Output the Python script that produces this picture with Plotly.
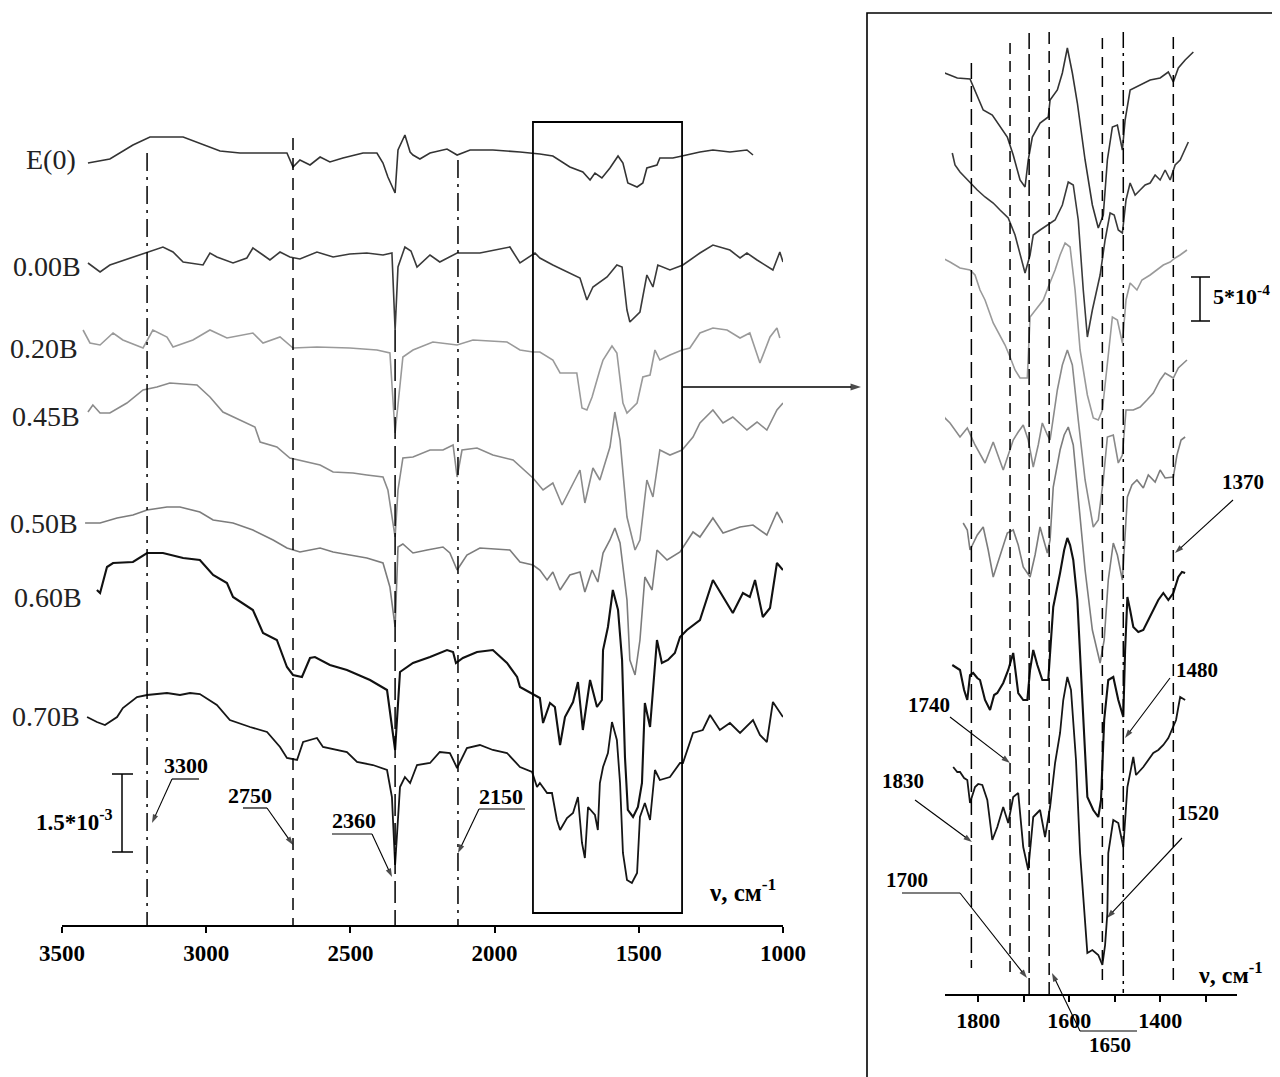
import plotly.graph_objects as go

W, H = 1280, 1077
OX, OY = 8, 8  # page offset of the figure inside the browser window

# ---------------- main panel spectra (wavenumber, cm-1 ; stacked signal, offset units) -------------
e0_wn = [3410,3334,3254,3195,3080,3022,2952,2883,2720,2699,2675,2640,2605,2571,2526,2456,2408,2387,2370,2345,2335,2311,2293,2283,2259,2224,2165,2130,2085,2040,2006,1912,1867,1843,1798,1739,1694,1669,1652,1628,1600,1572,1555,1538,1506,1486,1472,1437,1427,1382,1350,1288,1243,1184,1125,1104]
e0_y = [914,918,932,940,940,934,926,924,924,910,917,912,920,915,919,924,924,914,900,884,927,942,925,922,918,924,928,922,927,927,927,925,924,923,921,910,905,897,904,899,909,921,914,894,890,894,909,912,919,919,921,925,927,925,927,922]

v000_wn = [3410,3368,3334,3254,3195,3150,3115,3080,3011,2987,2963,2907,2859,2838,2803,2779,2744,2710,2675,2616,2560,2502,2443,2387,2356,2345,2335,2311,2290,2269,2224,2190,2130,2051,1947,1912,1860,1843,1798,1739,1704,1680,1659,1610,1576,1558,1541,1531,1496,1472,1451,1434,1392,1347,1288,1243,1184,1149,1125,1090,1035,1011,1000]
v000_y = [814,805,812,820,826,830,825,815,812,824,820,814,819,829,822,817,825,820,818,825,820,823,824,822,824,747,810,830,826,810,822,815,824,824,830,814,824,819,812,804,799,777,790,800,812,810,767,755,765,802,790,812,807,812,824,832,827,819,824,817,807,825,815]

v020_wn = [3427,3403,3368,3323,3289,3219,3185,3136,3115,3046,2987,2928,2838,2803,2744,2699,2616,2502,2408,2363,2345,2318,2283,2214,2130,2075,1957,1912,1867,1843,1798,1773,1715,1697,1680,1662,1635,1624,1593,1576,1555,1541,1506,1486,1461,1444,1427,1392,1350,1323,1288,1243,1194,1149,1115,1080,1045,1021,1011]
v020_y = [747,734,732,744,737,729,747,740,730,737,747,739,744,734,740,729,730,729,727,724,644,720,727,735,732,737,735,727,725,725,717,704,704,669,667,680,707,717,731,724,674,664,674,700,702,727,717,722,727,729,744,749,747,739,744,714,740,749,739]

v045_wn = [3410,3393,3368,3334,3275,3219,3171,3126,3032,2987,2942,2883,2831,2813,2755,2710,2651,2605,2560,2491,2443,2387,2370,2352,2345,2335,2318,2283,2224,2179,2144,2130,2113,2061,2006,1936,1888,1867,1832,1798,1766,1728,1704,1687,1659,1635,1600,1583,1565,1541,1513,1496,1472,1451,1427,1392,1350,1312,1288,1243,1208,1174,1125,1090,1056,1021,1000]
v045_y = [665,672,664,664,674,687,690,694,692,680,665,657,650,635,630,619,615,612,605,604,602,600,587,554,540,587,619,620,627,627,632,600,627,629,622,617,604,599,587,594,572,594,607,574,609,597,630,665,637,560,527,537,597,580,627,622,627,640,654,667,654,660,647,655,647,667,674]

v050_wn = [3420,3368,3309,3254,3205,3136,3091,3022,2976,2907,2838,2768,2720,2675,2605,2560,2502,2443,2387,2363,2345,2335,2318,2283,2234,2179,2155,2130,2096,2051,1947,1912,1867,1843,1818,1798,1773,1739,1704,1687,1662,1642,1624,1600,1583,1565,1541,1531,1513,1496,1479,1454,1437,1402,1357,1312,1288,1243,1208,1149,1104,1056,1021,1000]
v050_y = [554,554,559,562,567,570,570,565,557,554,547,537,529,525,529,525,522,519,514,490,450,530,533,524,527,530,524,507,522,529,527,515,512,507,497,505,487,502,505,485,507,495,524,537,549,534,477,417,402,437,500,487,527,517,525,545,540,559,544,550,552,542,565,554]

v060_wn = [3379,3368,3344,3323,3254,3205,3150,3080,3022,2976,2928,2907,2838,2803,2755,2720,2699,2668,2640,2623,2571,2512,2432,2373,2345,2328,2283,2224,2165,2144,2134,2110,2061,2006,1957,1922,1912,1867,1843,1832,1808,1791,1773,1756,1728,1711,1694,1669,1645,1628,1624,1607,1590,1572,1558,1548,1538,1520,1503,1489,1479,1461,1437,1420,1399,1375,1357,1333,1288,1243,1208,1174,1139,1115,1097,1070,1045,1021,1000]
v060_y = [487,484,510,514,515,524,524,519,517,502,494,480,467,444,437,410,402,400,419,420,412,407,397,387,327,405,414,420,427,425,414,419,425,427,414,400,390,383,379,354,374,370,332,360,375,395,347,397,370,377,427,450,487,467,417,320,267,260,270,294,374,350,437,414,417,424,440,447,457,497,480,464,484,480,497,460,469,514,507]

v070_wn = [3413,3379,3351,3309,3289,3240,3205,3136,3091,3056,3022,2963,2918,2848,2789,2744,2720,2685,2664,2616,2595,2512,2477,2422,2373,2356,2345,2328,2311,2293,2269,2224,2190,2155,2130,2096,2051,2006,1957,1912,1870,1853,1843,1818,1801,1784,1773,1749,1728,1711,1697,1687,1676,1652,1642,1635,1624,1607,1593,1576,1565,1555,1541,1524,1506,1496,1479,1461,1444,1427,1392,1357,1347,1312,1278,1253,1219,1184,1149,1104,1080,1056,1035,1011,1000]
v070_y = [360,355,352,360,369,380,382,384,382,384,383,372,357,350,345,330,319,317,335,339,330,325,315,312,307,280,212,290,300,294,312,314,325,324,309,329,332,327,324,310,305,290,294,284,284,257,247,259,264,280,234,219,270,262,247,294,310,324,355,337,294,224,197,194,204,260,274,257,307,297,300,314,314,344,347,362,347,354,344,357,342,335,375,364,360]

# ---------------- enlarged panel spectra (1880-1330 cm-1) ----------------
r_e0_wn = [1879,1862,1846,1818,1802,1789,1769,1752,1736,1723,1708,1697,1690,1681,1664,1646,1642,1626,1615,1604,1593,1582,1565,1549,1536,1525,1516,1505,1494,1483,1477,1466,1444,1422,1400,1382,1371,1360,1345,1327]
r_e0_y = [1005,1002,999,998,980,967,962,950,940,922,897,890,917,940,954,960,977,987,1004,1029,1004,974,917,872,849,862,917,950,952,927,957,987,992,997,999,1005,995,1009,1017,1025]

r_000_wn = [1857,1851,1840,1824,1813,1802,1785,1767,1752,1734,1719,1708,1697,1686,1679,1664,1648,1631,1615,1602,1591,1580,1569,1560,1549,1532,1521,1510,1501,1492,1483,1475,1466,1455,1444,1433,1422,1411,1400,1389,1378,1367,1356,1338]
r_000_y = [924,912,905,897,892,887,880,874,867,859,842,822,804,822,842,847,852,857,872,895,892,857,787,740,767,802,837,864,862,847,844,877,894,882,887,892,894,902,897,907,897,912,917,935]

r_020_wn = [1888,1879,1862,1840,1818,1807,1796,1785,1767,1752,1741,1730,1719,1708,1692,1686,1670,1657,1646,1631,1620,1609,1598,1587,1576,1560,1547,1536,1527,1516,1505,1494,1483,1475,1466,1451,1440,1422,1407,1393,1378,1367,1356,1341]
r_020_y = [824,819,815,809,807,802,787,777,754,742,732,720,707,699,699,760,770,777,790,807,822,834,830,787,727,682,659,657,667,717,760,757,734,777,794,787,797,802,807,812,815,819,822,827]

r_045_wn = [1888,1873,1862,1840,1824,1807,1785,1767,1745,1734,1723,1712,1701,1690,1679,1668,1659,1648,1642,1626,1615,1604,1593,1580,1565,1547,1536,1525,1516,1503,1492,1483,1475,1459,1444,1429,1415,1400,1389,1371,1360,1341]
r_045_y = [669,659,654,640,649,632,614,635,607,622,637,645,652,637,610,632,654,642,637,687,712,727,712,657,597,550,557,597,640,642,614,622,667,667,670,677,684,697,704,699,709,717]

r_050_wn = [1833,1824,1818,1802,1789,1778,1767,1752,1736,1723,1712,1701,1686,1675,1664,1648,1642,1635,1620,1611,1602,1591,1580,1565,1549,1538,1532,1523,1514,1503,1494,1483,1477,1472,1462,1451,1437,1426,1411,1400,1389,1371,1363,1354,1345]
r_050_y = [554,547,527,542,550,527,500,522,544,547,532,510,500,522,550,524,537,590,627,642,650,632,577,507,447,427,414,437,497,534,522,497,537,580,592,597,589,602,595,607,599,600,622,637,640]

r_060_wn = [1857,1846,1840,1831,1824,1818,1811,1802,1796,1785,1774,1765,1758,1745,1734,1723,1716,1712,1701,1692,1686,1679,1670,1659,1646,1642,1635,1620,1611,1604,1598,1591,1582,1571,1560,1547,1536,1530,1523,1514,1503,1492,1481,1477,1472,1466,1459,1448,1437,1426,1415,1404,1393,1382,1371,1360,1352,1345]
r_060_y = [412,409,407,387,377,402,404,399,397,377,367,382,384,394,407,424,397,384,377,377,407,427,412,397,397,427,470,504,527,539,532,517,477,377,280,267,260,277,357,397,400,377,360,427,480,467,450,445,447,457,467,477,484,477,484,500,505,504]

r_070_wn = [1855,1846,1840,1831,1824,1818,1807,1800,1791,1780,1769,1758,1745,1734,1723,1712,1701,1690,1679,1664,1653,1642,1631,1620,1613,1604,1596,1585,1576,1560,1549,1536,1527,1521,1516,1514,1503,1492,1481,1472,1459,1453,1437,1426,1415,1404,1393,1382,1374,1365,1356,1345]
r_070_y = [310,305,305,299,297,274,290,293,292,277,237,250,270,254,280,284,230,207,260,267,240,270,314,344,377,400,387,317,224,124,127,122,112,132,164,224,257,254,230,290,320,302,310,317,324,327,332,339,347,357,380,377]

series_labels = ["E(0)", "0.00B", "0.20B", "0.45B", "0.50B", "0.60B", "0.70B"]

# band positions drawn as guide lines, and their labels
main_band_pos = [3205, 2699, 2345, 2127]
main_band_text = ["3300", "2750", "2360", "2150"]
zoom_band_pos = [1815, 1730, 1688, 1644, 1527, 1481, 1371]
zoom_band_text = ["1830", "1740", "1700", "1650", "1520", "1480", "1370"]

main_ticks = [3500, 3000, 2500, 2000, 1500, 1000]
zoom_ticks = [1800, 1600, 1400]
zoom_minor_ticks = [1700, 1500, 1300]

# zoomed box in main panel (cm-1)
box_wn = [1867, 1350]

# ---------------- styling ----------------
colors = ["#333333", "#3a3a3a", "#9a9a9a", "#8a8a8a", "#7c7c7c", "#111111", "#161616"]
widths = [1.6, 1.6, 1.6, 1.6, 1.6, 2.1, 1.8]
SERIF = "Liberation Serif"


def PX(x):
    return (x - OX) / W


def PY(y):
    return 1 - (y - OY) / H


fig = go.Figure()

main_sets = [(e0_wn, e0_y), (v000_wn, v000_y), (v020_wn, v020_y), (v045_wn, v045_y),
             (v050_wn, v050_y), (v060_wn, v060_y), (v070_wn, v070_y)]
zoom_sets = [(r_e0_wn, r_e0_y), (r_000_wn, r_000_y), (r_020_wn, r_020_y), (r_045_wn, r_045_y),
             (r_050_wn, r_050_y), (r_060_wn, r_060_y), (r_070_wn, r_070_y)]

for i, (xs, ys) in enumerate(main_sets):
    fig.add_trace(go.Scatter(x=xs, y=ys, mode="lines", name=series_labels[i],
                             line=dict(color=colors[i], width=widths[i]),
                             xaxis="x", yaxis="y", hoverinfo="skip", showlegend=False))
for i, (xs, ys) in enumerate(zoom_sets):
    fig.add_trace(go.Scatter(x=xs, y=ys, mode="lines", name=series_labels[i],
                             line=dict(color=colors[i], width=widths[i]),
                             xaxis="x2", yaxis="y2", hoverinfo="skip", showlegend=False))

# pointer arrows (tail -> tip) drawn on a full-canvas overlay in screen pixel units
pointer_arrows = [
    ((172, 779), (152, 823)), ((267, 808), (293, 845)), ((372, 834), (392, 877)), ((479, 809), (458, 853)),
    ((1233, 500), (1175, 553)), ((1170, 678), (1125, 738)), ((950, 717), (1010, 763)),
    ((915, 800), (972, 842)), ((1182, 838), (1107, 918)), ((960, 893), (1027, 978)),
    ((1080, 1031), (1052, 973)),
]
for tail, tip in pointer_arrows:
    fig.add_trace(go.Scatter(x=[tail[0], tip[0]], y=[tail[1], tip[1]], mode="lines+markers",
                             line=dict(color="black", width=1.1),
                             marker=dict(symbol=["circle", "arrow"], size=[0, 9], angleref="previous",
                                         color="black", line=dict(width=0)),
                             xaxis="x3", yaxis="y3", hoverinfo="skip", showlegend=False))
# connector from the box to the enlarged panel
fig.add_trace(go.Scatter(x=[682, 861], y=[387, 387], mode="lines+markers",
                         line=dict(color="black", width=1.6),
                         marker=dict(symbol=["circle", "arrow"], size=[0, 11], angleref="previous",
                                     color="black", line=dict(width=0)),
                         xaxis="x3", yaxis="y3", hoverinfo="skip", showlegend=False))

tickfont = dict(family=SERIF, size=23, color="black", weight="bold")
fig.update_layout(
    width=W, height=H, margin=dict(l=0, r=0, t=0, b=0, autoexpand=False),
    paper_bgcolor="white", plot_bgcolor="rgba(0,0,0,0)", showlegend=False,
    xaxis=dict(domain=[PX(62), PX(783)], range=[3500, 1000], anchor="y",
               tickvals=main_ticks, ticktext=[str(t) for t in main_ticks],
               ticks="outside", ticklen=6, tickwidth=1.5, tickcolor="black",
               showline=True, linecolor="black", linewidth=2,
               showgrid=False, zeroline=False, tickfont=tickfont),
    yaxis=dict(domain=[PY(925), 1], range=[1077 - 925, 1077 - OY], visible=False),
    xaxis2=dict(domain=[PX(945), PX(1237)], range=[1873, 1231], anchor="y2",
                tickvals=zoom_ticks, ticktext=[str(t) for t in zoom_ticks],
                ticks="outside", ticklen=6, tickwidth=1.5, tickcolor="black",
                minor=dict(tickvals=zoom_minor_ticks, ticks="outside", ticklen=6,
                           tickwidth=1.5, tickcolor="black", showgrid=False),
                showline=True, linecolor="black", linewidth=2,
                showgrid=False, zeroline=False,
                tickfont=dict(family=SERIF, size=22, color="black", weight="bold")),
    yaxis2=dict(domain=[PY(994), 1], range=[1077 - 994, 1077 - OY], visible=False, anchor="x2"),
    xaxis3=dict(domain=[0, 1], range=[OX, W + OX], visible=False, anchor="y3", fixedrange=True),
    yaxis3=dict(domain=[0, 1], range=[H + OY, OY], visible=False, anchor="x3", fixedrange=True),
)

shapes = []
# guide lines, main panel
main_dash = ["18px,6px,3px,6px", "12px,8px", "22px,7px", "18px,6px,3px,6px"]
main_top = [924, 939, 747, 917]
for pos, d, top in zip(main_band_pos, main_dash, main_top):
    shapes.append(dict(type="line", xref="x", yref="y", x0=pos, x1=pos, y0=top, y1=152,
                       line=dict(color="black", width=1.5, dash=d)))
# box around the enlarged region
shapes.append(dict(type="rect", xref="x", yref="y", x0=box_wn[0], x1=box_wn[1], y0=164, y1=955,
                   line=dict(color="black", width=1.8)))
# guide lines, enlarged panel
zoom_dash = ["16px,7px", "11px,7px", "16px,5px", "12px,7px", "11px,8px", "16px,5px,3px,5px", "12px,7px"]
zoom_top = [1014, 1034, 1044, 1045, 1039, 1045, 1040]
zoom_bot = [109, 99, 79, 79, 90, 84, 94]
for pos, d, t, b in zip(zoom_band_pos, zoom_dash, zoom_top, zoom_bot):
    shapes.append(dict(type="line", xref="x2", yref="y2", x0=pos, x1=pos, y0=t, y1=b,
                       line=dict(color="black", width=1.5, dash=d)))
# frame of the enlarged panel
shapes.append(dict(type="rect", xref="paper", yref="paper", x0=PX(867), x1=1.05, y0=-0.05, y1=PY(13),
                   line=dict(color="black", width=1.6)))


def seg(x0, y0, x1, y1, w=1.5):
    shapes.append(dict(type="line", xref="paper", yref="paper", x0=PX(x0), y0=PY(y0),
                       x1=PX(x1), y1=PY(y1), line=dict(color="black", width=w)))


# scale bars
seg(122, 774, 122, 852)
seg(112, 774, 133, 774)
seg(112, 852, 133, 852)
seg(1200, 277, 1200, 321)
seg(1191, 277, 1210, 277)
seg(1191, 321, 1210, 321)
# underlines of band labels
seg(172, 779, 199, 779, 1.2)
seg(243, 808, 267, 808, 1.2)
seg(332, 834, 372, 834, 1.2)
seg(479, 809, 525, 809, 1.2)
seg(902, 893, 960, 893, 1.2)
seg(1080, 1031, 1137, 1031, 1.2)
fig.update_layout(shapes=shapes)


def label(text, x, y, size=22, bold=True, xanchor="center", color="black"):
    fig.add_annotation(x=PX(x), y=PY(y), xref="paper", yref="paper", text=text, showarrow=False,
                       xanchor=xanchor, yanchor="middle",
                       font=dict(family=SERIF, size=size, color=color,
                                 weight="bold" if bold else "normal"))


# series labels
lab_pos = [(51, 160), (47, 267), (44, 348), (46, 417), (44, 523), (48, 597), (46, 716)]
for t, (x, y) in zip(series_labels, lab_pos):
    label(t, x, y, size=28, bold=False, color="#222222")

# band labels, main panel
for t, (x, y) in zip(main_band_text, [(186, 765), (250, 795), (354, 820), (501, 796)]):
    label(t, x, y)

# scale bar texts
label("1.5*10<sup>-3</sup>", 34, 820, size=23, xanchor="left")
label("5*10<sup>-4</sup>", 1211, 295, size=22, xanchor="left")

# axis titles
label("ν, см<sup>-1</sup>", 707, 890, size=25, xanchor="left")
label("ν, см<sup>-1</sup>", 1196, 973, size=24, xanchor="left")

# enlarged panel band labels
zoom_label_pos = [(903, 781), (929, 705), (907, 880), (1110, 1045), (1198, 813), (1197, 670), (1243, 482)]
for t, (x, y) in zip(zoom_band_text, zoom_label_pos):
    label(t, x, y, size=21)

fig.write_html("out.html")
